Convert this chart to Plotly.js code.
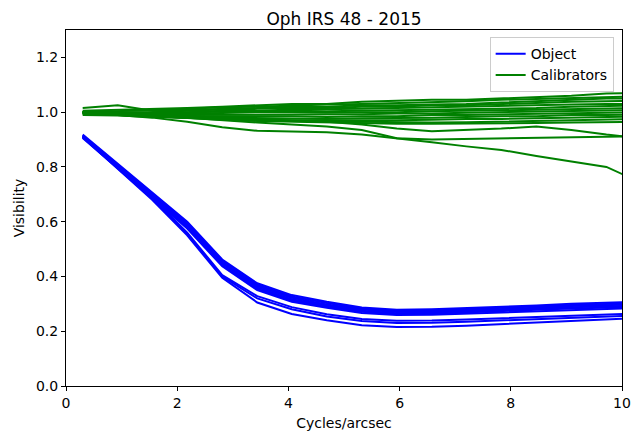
<!DOCTYPE html>
<html>
<head>
<meta charset="utf-8">
<script src="https://cdn.plot.ly/plotly-3.0.1.min.js"></script>
<style>html,body{margin:0;padding:0;background:#fff;}#chart{width:632px;height:437px;}</style>
</head>
<body>
<div id="chart"></div>
<script>
// Spatial frequency sample points (cycles/arcsec)
const freq = [0.30, 0.93, 1.55, 2.18, 2.81, 3.44, 4.06, 4.69, 5.32, 5.95, 6.58, 7.20, 7.83, 8.46, 9.09, 9.72, 10.35];

// Object (Oph IRS 48) visibilities
const object1 = [0.918, 0.812, 0.708, 0.600, 0.462, 0.375, 0.332, 0.308, 0.287, 0.278, 0.280, 0.284, 0.289, 0.294, 0.300, 0.305, 0.308];
const object2 = [0.915, 0.808, 0.703, 0.595, 0.457, 0.370, 0.327, 0.303, 0.283, 0.274, 0.276, 0.280, 0.285, 0.290, 0.296, 0.301, 0.303];
const object3 = [0.913, 0.805, 0.700, 0.590, 0.452, 0.365, 0.322, 0.298, 0.279, 0.270, 0.272, 0.276, 0.281, 0.286, 0.292, 0.297, 0.299];
const object4 = [0.910, 0.802, 0.696, 0.585, 0.447, 0.360, 0.317, 0.294, 0.275, 0.266, 0.268, 0.272, 0.277, 0.282, 0.288, 0.292, 0.294];
const object5 = [0.908, 0.799, 0.692, 0.580, 0.442, 0.355, 0.312, 0.290, 0.271, 0.262, 0.264, 0.268, 0.273, 0.278, 0.283, 0.287, 0.289];
const object6 = [0.906, 0.796, 0.688, 0.575, 0.437, 0.350, 0.308, 0.286, 0.267, 0.259, 0.260, 0.264, 0.269, 0.274, 0.279, 0.283, 0.285];
const object7 = [0.912, 0.800, 0.688, 0.560, 0.405, 0.328, 0.288, 0.262, 0.245, 0.238, 0.239, 0.243, 0.248, 0.253, 0.258, 0.263, 0.265];
const object8 = [0.910, 0.797, 0.684, 0.555, 0.400, 0.320, 0.280, 0.254, 0.237, 0.230, 0.231, 0.235, 0.240, 0.245, 0.251, 0.256, 0.258];
const object9 = [0.908, 0.794, 0.680, 0.550, 0.395, 0.305, 0.263, 0.240, 0.222, 0.215, 0.216, 0.220, 0.226, 0.232, 0.240, 0.246, 0.249];
const objectSeries = [object1, object2, object3, object4, object5, object6, object7, object8, object9];

// Calibrator visibilities
const cal1  = [1.005, 1.008, 1.010, 1.015, 1.020, 1.025, 1.030, 1.030, 1.038, 1.042, 1.045, 1.045, 1.050, 1.055, 1.060, 1.068, 1.070];
const cal2  = [1.000, 1.005, 1.008, 1.012, 1.018, 1.020, 1.025, 1.028, 1.030, 1.033, 1.036, 1.040, 1.045, 1.048, 1.050, 1.055, 1.058];
const cal3  = [1.015, 1.025, 1.005, 1.008, 1.010, 1.015, 1.020, 1.020, 1.025, 1.025, 1.028, 1.030, 1.035, 1.040, 1.045, 1.050, 1.050];
const cal4  = [0.998, 1.000, 1.000, 1.005, 1.010, 1.012, 1.015, 1.015, 1.020, 1.020, 1.025, 1.025, 1.030, 1.035, 1.038, 1.040, 1.042];
const cal5  = [1.000, 1.000, 1.002, 1.000, 1.005, 1.005, 1.010, 1.010, 1.012, 1.015, 1.018, 1.020, 1.022, 1.025, 1.028, 1.030, 1.030];
const cal6  = [0.995, 0.995, 0.998, 1.000, 1.000, 1.002, 1.005, 1.003, 1.005, 1.008, 1.010, 1.010, 1.012, 1.015, 1.020, 1.022, 1.025];
const cal7  = [1.000, 0.998, 0.995, 0.995, 0.997, 1.000, 1.000, 0.998, 1.000, 1.000, 1.003, 1.005, 1.008, 1.010, 1.012, 1.015, 1.015];
const cal8  = [0.998, 0.995, 0.990, 0.990, 0.990, 0.992, 0.990, 0.990, 0.992, 0.995, 0.995, 0.998, 1.000, 1.003, 1.005, 1.005, 1.008];
const cal9  = [1.000, 0.995, 0.990, 0.985, 0.985, 0.985, 0.985, 0.982, 0.985, 0.985, 0.990, 0.990, 0.992, 0.995, 0.998, 1.000, 1.000];
const cal10 = [0.995, 0.990, 0.985, 0.980, 0.980, 0.978, 0.975, 0.975, 0.978, 0.978, 0.980, 0.982, 0.985, 0.985, 0.990, 0.990, 0.992];
const cal11 = [0.990, 0.988, 0.982, 0.978, 0.975, 0.972, 0.970, 0.970, 0.968, 0.970, 0.972, 0.975, 0.975, 0.978, 0.980, 0.982, 0.985];
const cal12 = [0.995, 0.990, 0.985, 0.980, 0.975, 0.970, 0.968, 0.965, 0.965, 0.963, 0.962, 0.963, 0.965, 0.968, 0.970, 0.972, 0.975];
const cal13 = [1.000, 0.995, 0.985, 0.978, 0.972, 0.968, 0.965, 0.962, 0.960, 0.958, 0.958, 0.958, 0.960, 0.960, 0.962, 0.963, 0.965];
const cal14 = [1.000, 0.995, 0.990, 0.985, 0.980, 0.975, 0.970, 0.965, 0.955, 0.940, 0.930, 0.935, 0.940, 0.948, 0.935, 0.918, 0.905];
const cal15 = [1.000, 0.995, 0.990, 0.980, 0.970, 0.962, 0.955, 0.948, 0.935, 0.905, 0.900, 0.902, 0.904, 0.906, 0.908, 0.910, 0.912];
const cal16 = [1.000, 0.990, 0.980, 0.965, 0.945, 0.932, 0.930, 0.927, 0.918, 0.905, 0.890, 0.875, 0.862, 0.840, 0.820, 0.800, 0.742];
const calSeries = [cal1, cal2, cal3, cal4, cal5, cal6, cal7, cal8, cal9, cal10, cal11, cal12, cal13, cal14, cal15, cal16];

const traces = [];
calSeries.forEach((v, i) => {
  traces.push({
    x: freq, y: v, type: 'scatter', mode: 'lines',
    line: {color: 'green', width: 2},
    name: 'Calibrators', legendgroup: 'cal', showlegend: i === 0
  });
});
objectSeries.forEach((v, i) => {
  traces.push({
    x: freq, y: v, type: 'scatter', mode: 'lines',
    line: {color: 'blue', width: 2},
    name: 'Object', legendgroup: 'obj', showlegend: i === 0
  });
});

const font = {family: 'DejaVu Sans, sans-serif', size: 14, color: '#000'};
const layout = {
  width: 632, height: 437,
  margin: {l: 66, r: 10, t: 30, b: 51},
  paper_bgcolor: '#fff', plot_bgcolor: '#fff',
  font: font,
  title: {text: 'Oph IRS 48 - 2015', font: {family: 'DejaVu Sans, sans-serif', size: 17, color: '#000'},
          x: 0.5, xref: 'paper', y: 1, yref: 'paper', yanchor: 'bottom', pad: {b: 5}},
  xaxis: {
    range: [0, 10], tickvals: [0, 2, 4, 6, 8, 10], ticktext: ['0', '2', '4', '6', '8', '10'],
    showgrid: false, zeroline: false, showline: true, mirror: true, linecolor: '#000', linewidth: 1,
    ticks: 'outside', ticklen: 4, tickwidth: 1, tickcolor: '#000',
    title: {text: 'Cycles/arcsec', font: font, standoff: 8}
  },
  yaxis: {
    range: [0, 1.3], tickvals: [0, 0.2, 0.4, 0.6, 0.8, 1.0, 1.2],
    ticktext: ['0.0', '0.2', '0.4', '0.6', '0.8', '1.0', '1.2'],
    showgrid: false, zeroline: false, showline: true, mirror: true, linecolor: '#000', linewidth: 1,
    ticks: 'outside', ticklen: 4, tickwidth: 1, tickcolor: '#000',
    title: {text: 'Visibility', font: font, standoff: 8}
  },
  legend: {
    x: 0.985, xanchor: 'right', y: 0.98, yanchor: 'top',
    bordercolor: '#cccccc', borderwidth: 1, bgcolor: 'rgba(255,255,255,0.8)',
    font: font, traceorder: 'reversed', tracegroupgap: 0
  },
  showlegend: true
};

Plotly.newPlot('chart', traces, layout, {displayModeBar: false, staticPlot: true});
</script>
</body>
</html>
